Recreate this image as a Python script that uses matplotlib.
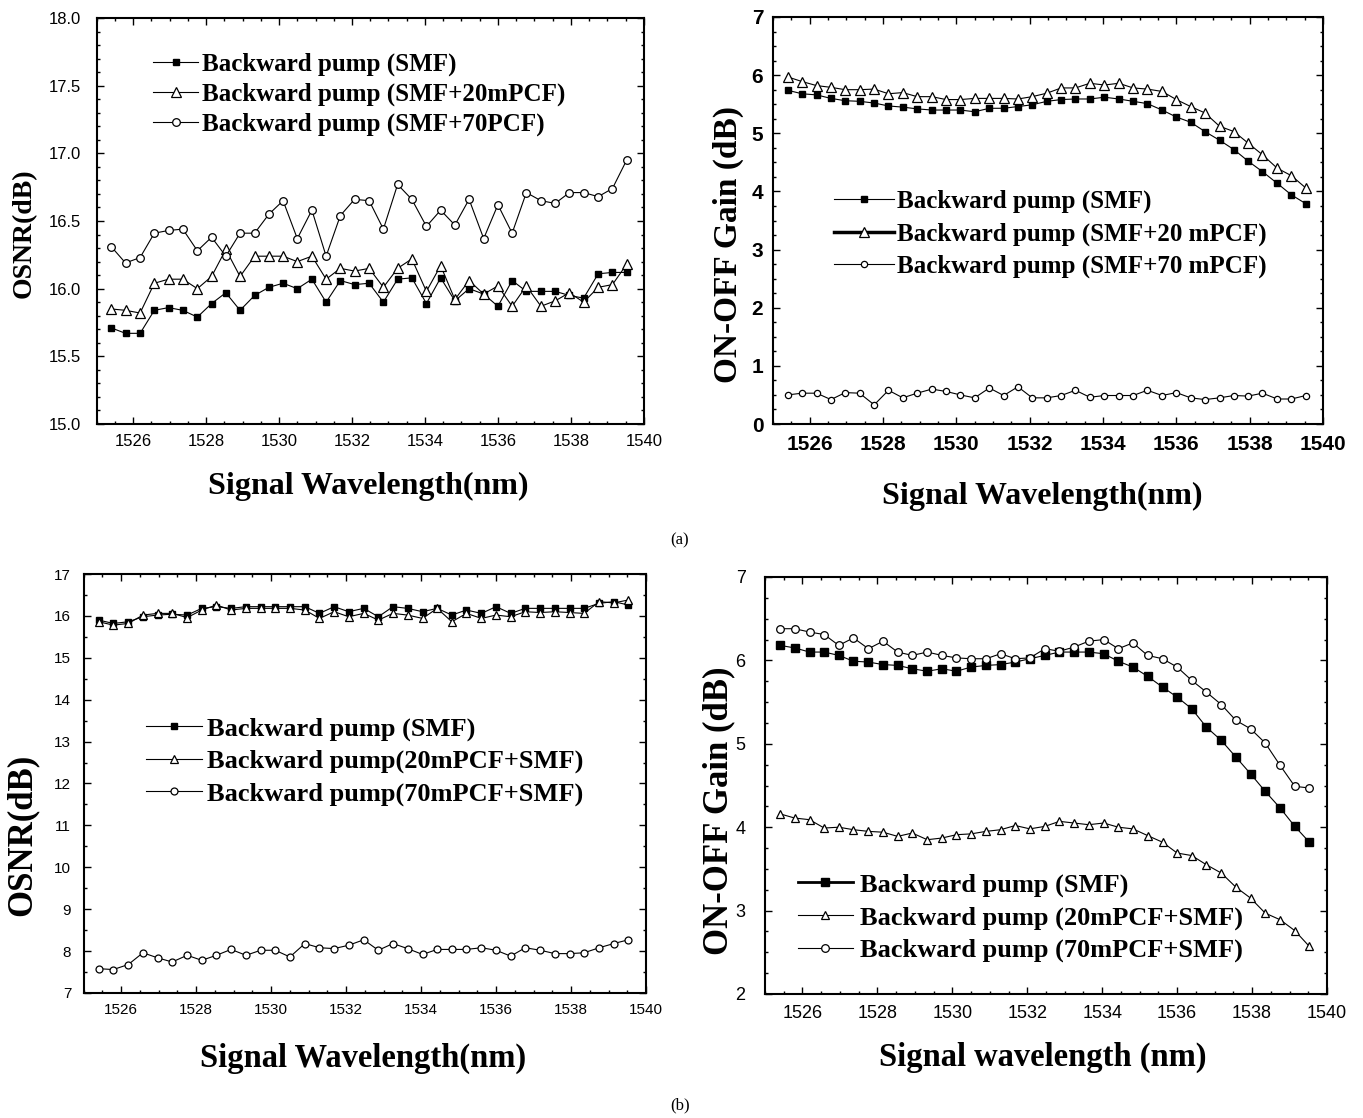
import numpy as np
import matplotlib
matplotlib.use("Agg")
import matplotlib.pyplot as plt
from matplotlib.font_manager import FontProperties
from matplotlib.ticker import MultipleLocator, FormatStrFormatter

# wavelengths of the 37 measured channels (nm)
wl = [1525.40, 1525.79, 1526.19, 1526.58, 1526.97, 1527.36, 1527.76, 1528.15,
      1528.54, 1528.93, 1529.33, 1529.72, 1530.11, 1530.50, 1530.90, 1531.29,
      1531.68, 1532.07, 1532.47, 1532.86, 1533.25, 1533.64, 1534.04, 1534.43,
      1534.82, 1535.21, 1535.61, 1536.00, 1536.39, 1536.78, 1537.18, 1537.57,
      1537.96, 1538.35, 1538.75, 1539.14, 1539.53]

# (a) OSNR
osnr_a_smf = [15.71, 15.67, 15.67, 15.84, 15.86, 15.84, 15.79, 15.89, 15.97, 15.84,
              15.95, 16.01, 16.04, 16.00, 16.07, 15.90, 16.06, 16.03, 16.04, 15.90,
              16.07, 16.08, 15.89, 16.08, 15.91, 16.00, 15.96, 15.87, 16.06, 15.98,
              15.98, 15.98, 15.95, 15.93, 16.11, 16.12, 16.12]
osnr_a_20 = [15.85, 15.84, 15.82, 16.04, 16.07, 16.07, 16.00, 16.09, 16.29, 16.09,
             16.24, 16.24, 16.24, 16.20, 16.24, 16.07, 16.15, 16.13, 16.15, 16.01,
             16.15, 16.22, 15.98, 16.17, 15.92, 16.06, 15.96, 16.02, 15.87, 16.02,
             15.87, 15.91, 15.97, 15.90, 16.01, 16.03, 16.18]
osnr_a_70 = [16.31, 16.19, 16.23, 16.41, 16.43, 16.44, 16.28, 16.38, 16.24, 16.41,
             16.41, 16.55, 16.65, 16.37, 16.58, 16.24, 16.54, 16.66, 16.65, 16.44,
             16.77, 16.66, 16.46, 16.58, 16.47, 16.66, 16.37, 16.62, 16.41, 16.71,
             16.65, 16.63, 16.71, 16.71, 16.68, 16.74, 16.95]

# (a) ON-OFF gain
gain_a_smf = [5.74, 5.68, 5.66, 5.60, 5.56, 5.55, 5.52, 5.47, 5.45, 5.42,
              5.40, 5.40, 5.40, 5.37, 5.43, 5.43, 5.46, 5.49, 5.55, 5.58,
              5.59, 5.59, 5.62, 5.59, 5.55, 5.51, 5.40, 5.28, 5.19, 5.03,
              4.88, 4.72, 4.52, 4.34, 4.14, 3.94, 3.79]
gain_a_20 = [5.97, 5.89, 5.82, 5.79, 5.75, 5.75, 5.76, 5.68, 5.70, 5.63,
             5.63, 5.58, 5.58, 5.60, 5.60, 5.60, 5.59, 5.63, 5.69, 5.78,
             5.78, 5.86, 5.83, 5.86, 5.78, 5.76, 5.72, 5.58, 5.46, 5.35,
             5.12, 5.03, 4.83, 4.63, 4.40, 4.27, 4.06]
gain_a_70 = [0.50, 0.53, 0.53, 0.42, 0.54, 0.53, 0.33, 0.58, 0.45, 0.53,
             0.60, 0.56, 0.50, 0.45, 0.62, 0.49, 0.64, 0.45, 0.45, 0.49,
             0.58, 0.46, 0.49, 0.49, 0.49, 0.58, 0.49, 0.54, 0.45, 0.42,
             0.45, 0.49, 0.48, 0.53, 0.43, 0.43, 0.49]

# (b) OSNR
osnr_b_smf = [15.90, 15.82, 15.86, 15.98, 16.02, 16.04, 16.02, 16.18, 16.22, 16.18,
              16.22, 16.22, 16.22, 16.22, 16.22, 16.06, 16.22, 16.10, 16.18, 15.98,
              16.22, 16.18, 16.10, 16.18, 16.02, 16.14, 16.06, 16.22, 16.06, 16.18,
              16.18, 16.18, 16.18, 16.18, 16.30, 16.34, 16.26]
osnr_b_20 = [15.86, 15.78, 15.82, 16.02, 16.06, 16.06, 15.96, 16.14, 16.26, 16.14,
             16.18, 16.18, 16.18, 16.18, 16.14, 15.94, 16.10, 15.98, 16.06, 15.90,
             16.06, 16.02, 15.94, 16.18, 15.86, 16.06, 15.94, 16.02, 15.98, 16.10,
             16.08, 16.10, 16.08, 16.06, 16.34, 16.31, 16.38]
osnr_b_70 = [7.58, 7.56, 7.68, 7.96, 7.84, 7.74, 7.90, 7.78, 7.90, 8.04,
             7.90, 8.02, 8.02, 7.86, 8.18, 8.08, 8.06, 8.14, 8.27, 8.02,
             8.18, 8.06, 7.92, 8.04, 8.04, 8.04, 8.08, 8.02, 7.88, 8.08,
             8.02, 7.94, 7.94, 7.96, 8.08, 8.18, 8.27]

# (b) ON-OFF gain
gain_b_smf = [6.18, 6.15, 6.10, 6.10, 6.06, 5.99, 5.98, 5.95, 5.94, 5.90,
              5.87, 5.90, 5.87, 5.92, 5.94, 5.95, 5.98, 6.02, 6.06, 6.10,
              6.10, 6.10, 6.08, 5.99, 5.92, 5.81, 5.68, 5.56, 5.42, 5.20,
              5.04, 4.84, 4.64, 4.43, 4.23, 4.01, 3.82]
gain_b_20 = [4.16, 4.11, 4.09, 3.99, 4.00, 3.97, 3.95, 3.94, 3.89, 3.93,
             3.85, 3.87, 3.91, 3.92, 3.95, 3.97, 4.02, 3.98, 4.01, 4.07,
             4.05, 4.03, 4.05, 4.00, 3.98, 3.90, 3.82, 3.69, 3.66, 3.55,
             3.45, 3.28, 3.15, 2.97, 2.89, 2.76, 2.57]
gain_b_70 = [6.38, 6.38, 6.34, 6.31, 6.18, 6.27, 6.14, 6.23, 6.10, 6.06,
             6.10, 6.06, 6.03, 6.02, 6.02, 6.08, 6.02, 6.03, 6.14, 6.11,
             6.16, 6.23, 6.25, 6.14, 6.21, 6.06, 6.02, 5.92, 5.76, 5.62,
             5.47, 5.28, 5.18, 5.01, 4.74, 4.49, 4.47]

lbl_a_osnr = ["Backward pump (SMF)", "Backward pump (SMF+20mPCF)", "Backward pump (SMF+70PCF)"]
lbl_a_gain = ["Backward pump (SMF)", "Backward pump (SMF+20 mPCF)", "Backward pump (SMF+70 mPCF)"]
lbl_b_osnr = ["Backward pump (SMF)", "Backward pump(20mPCF+SMF)", "Backward pump(70mPCF+SMF)"]
lbl_b_gain = ["Backward pump (SMF)", "Backward pump (20mPCF+SMF)", "Backward pump (70mPCF+SMF)"]

SERIF = "Liberation Serif"
SANS = "Liberation Sans"


def style_axes(ax, ylim, ymaj, ymin, tick_size, tick_bold, xpad, ypad, yfmt=None):
    ax.set_xlim(1525, 1540)
    ax.set_ylim(*ylim)
    ax.xaxis.set_major_locator(MultipleLocator(2))
    ax.xaxis.set_minor_locator(MultipleLocator(0.5))
    ax.yaxis.set_major_locator(MultipleLocator(ymaj))
    ax.yaxis.set_minor_locator(MultipleLocator(ymin))
    if yfmt:
        ax.yaxis.set_major_formatter(FormatStrFormatter(yfmt))
    ax.tick_params(which="both", direction="in", top=True, right=True, width=1.0)
    ax.tick_params(which="major", length=5)
    ax.tick_params(which="minor", length=2.5)
    ax.tick_params(axis="x", pad=xpad)
    ax.tick_params(axis="y", pad=ypad)
    for lab in ax.get_xticklabels() + ax.get_yticklabels():
        lab.set_fontfamily(SANS)
        lab.set_fontsize(tick_size)
        lab.set_fontweight("bold" if tick_bold else "normal")
    for sp in ax.spines.values():
        sp.set_linewidth(1.5)


def draw_series(ax, ys, sizes):
    ax.plot(wl, ys[0], color="black", lw=0.8, marker="s", ms=sizes[0], mfc="black", mec="black")
    ax.plot(wl, ys[1], color="black", lw=0.8, marker="^", ms=sizes[1], mfc="white", mec="black", mew=0.9)
    ax.plot(wl, ys[2], color="black", lw=0.8, marker="o", ms=sizes[2], mfc="white", mec="black", mew=0.9)


def add_legend(ax, labels, anchor, size, hl, pad, spacing):
    leg = ax.legend(labels, loc="upper left", bbox_to_anchor=anchor, frameon=False,
                    borderpad=0, borderaxespad=0, handlelength=hl, handletextpad=pad,
                    labelspacing=spacing, prop=FontProperties(family=SERIF, weight="bold", size=size))
    return leg


fig = plt.figure(figsize=(13.63, 11.18), dpi=100)
W, H = 1363.0, 1118.0


def add_ax(x0, x1, y0, y1):
    return fig.add_axes([x0 / W, 1 - y1 / H, (x1 - x0) / W, (y1 - y0) / H])


# (a) left: OSNR
ax1 = add_ax(96.7, 643.8, 18, 424)
draw_series(ax1, [osnr_a_smf, osnr_a_20, osnr_a_70], [5, 6.5, 5.5])
style_axes(ax1, (15, 18), 0.5, 0.1, 12, False, 7, 11, "%.1f")
add_legend(ax1, lbl_a_osnr, (0.103, 0.914), 18, 1.8, 0.15, 0.26)
ax1.set_ylabel("OSNR(dB)", fontfamily=SERIF, fontweight="bold", fontsize=20)
ax1.yaxis.set_label_coords(-0.11, 0.47)
ax1.set_xlabel("Signal Wavelength(nm)", fontfamily=SERIF, fontweight="bold", fontsize=23)
ax1.xaxis.set_label_coords(0.497, -0.118)

# (a) right: gain
ax2 = add_ax(773, 1323, 17, 424)
draw_series(ax2, [gain_a_smf, gain_a_20, gain_a_70], [4.5, 7, 4.5])
style_axes(ax2, (0, 7), 1, 0.25, 15, True, 8, 7)
leg2 = add_legend(ax2, lbl_a_gain, (0.11, 0.575), 18, 2.4, 0.14, 0.36)
leg2.get_lines()[1].set_linewidth(2.5)
ax2.set_ylabel("ON-OFF Gain (dB)", fontfamily=SERIF, fontweight="bold", fontsize=24)
ax2.yaxis.set_label_coords(-0.053, 0.44)
ax2.set_xlabel("Signal Wavelength(nm)", fontfamily=SERIF, fontweight="bold", fontsize=23)
ax2.xaxis.set_label_coords(0.489, -0.143)

# (b) left: OSNR
ax3 = add_ax(83.7, 646, 574, 993)
draw_series(ax3, [osnr_b_smf, osnr_b_20, osnr_b_70], [5, 6, 5])
style_axes(ax3, (7, 17), 1, 0.5, 11, False, 7, 9)
add_legend(ax3, lbl_b_osnr, (0.111, 0.659), 19, 2.1, 0.21, 0.33)
ax3.set_ylabel("OSNR(dB)", fontfamily=SERIF, fontweight="bold", fontsize=25)
ax3.yaxis.set_label_coords(-0.081, 0.377)
ax3.set_xlabel("Signal Wavelength(nm)", fontfamily=SERIF, fontweight="bold", fontsize=23.5)
ax3.xaxis.set_label_coords(0.496, -0.118)

# (b) right: gain
ax4 = add_ax(765, 1327, 577, 994)
draw_series(ax4, [gain_b_smf, gain_b_20, gain_b_70], [6, 5.5, 5.5])
style_axes(ax4, (2, 7), 1, 0.25, 13, False, 8, 14)
leg4 = add_legend(ax4, lbl_b_gain, (0.058, 0.29), 19, 2.1, 0.25, 0.33)
leg4.get_lines()[0].set_linewidth(2)
ax4.set_ylabel("ON-OFF Gain (dB)", fontfamily=SERIF, fontweight="bold", fontsize=25)
ax4.yaxis.set_label_coords(-0.053, 0.44)
ax4.set_xlabel("Signal wavelength (nm)", fontfamily=SERIF, fontweight="bold", fontsize=23.5)
ax4.xaxis.set_label_coords(0.494, -0.115)

fig.text(680 / W, 1 - 540 / H, "(a)", ha="center", va="center", fontfamily=SERIF, fontsize=12)
fig.text(680 / W, 1 - 1105 / H, "(b)", ha="center", va="center", fontfamily=SERIF, fontsize=12)

fig.savefig("out.png", dpi=100)
